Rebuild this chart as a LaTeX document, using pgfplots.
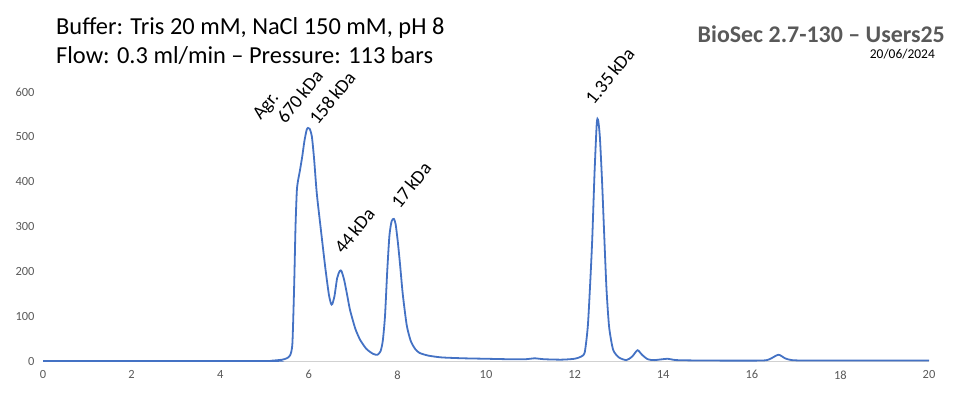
\documentclass[border=0pt]{standalone}
\usepackage{pgfplots}
\pgfplotsset{compat=1.18}
\usepackage{fontspec}
\setmainfont{Carlito}
\definecolor{curve}{HTML}{4472C4}
\definecolor{tickc}{HTML}{595959}
\begin{document}
\begin{tikzpicture}[x=1bp,y=1bp]
\path[use as bounding box] (0,0) rectangle (968,396);
\begin{axis}[at={(43bp,35bp)}, anchor=south west, scale only axis,
  width=886bp, height=269bp, xmin=0, xmax=20, ymin=0, ymax=600,
  xtick={0,2,...,20}, ytick={0,100,...,600},
  axis x line*=bottom, axis y line*=left,
  x axis line style={-, draw=black!18, line width=0.8bp},
  y axis line style={draw=none},
  major tick length=0,
  tick label style={font=\fontsize{12.5}{14}\selectfont, text=tickc},
  /pgf/number format/assume math mode=true,
  xticklabel style={yshift=-6bp}, yticklabel style={xshift=-5bp},
  clip=false]
\addplot[curve, line width=1.8bp, smooth, tension=0.4] coordinates {
(0,0) (5.0,0) (5.2,1) (5.4,3) (5.5,6) (5.58,13) (5.63,40) (5.67,170) (5.70,300)
(5.73,380) (5.76,404) (5.80,425) (5.85,455) (5.90,490) (5.95,515) (5.98,520)
(6.02,518) (6.07,500) (6.12,450) (6.18,374) (6.27,295) (6.37,210) (6.45,150)
(6.50,128) (6.53,127) (6.58,145) (6.64,185) (6.70,201) (6.74,200) (6.80,180)
(6.87,145) (6.93,114) (7.05,72) (7.16,47) (7.30,27) (7.45,16) (7.55,14)
(7.62,22) (7.67,45) (7.72,100) (7.77,200) (7.82,280) (7.87,312) (7.92,317)
(7.96,305) (8.01,265) (8.06,215) (8.12,150) (8.21,80) (8.30,45) (8.40,27)
(8.50,18) (8.70,12) (9.0,8) (9.5,6) (10.0,5) (10.5,4) (10.9,4) (11.1,6)
(11.3,4) (11.7,3) (12.0,5) (12.15,10) (12.23,20) (12.30,80) (12.36,190)
(12.40,277) (12.45,420) (12.50,530) (12.53,538) (12.57,500) (12.62,400)
(12.67,277) (12.72,160) (12.78,75) (12.87,25) (13.0,8) (13.17,2) (13.3,10)
(13.42,24) (13.52,14) (13.65,4) (13.8,2) (14.1,5) (14.3,2) (15,1) (16.2,1)
(16.4,4) (16.6,14) (16.75,6) (16.9,2) (17.2,1) (18,1) (19,1) (20,1)
};
\tikzset{pk/.style={rotate=51, anchor=base west, inner sep=0pt, xshift=4bp, yshift=-1bp, font=\fontsize{19}{22}\selectfont}}
\node[pk] at (axis cs:4.84,530) {Agr.};
\node[pk] at (axis cs:5.40,522) {670\,kDa};
\node[pk] at (axis cs:6.13,519) {158\,kDa};
\node[pk] at (axis cs:6.70,231) {44\,kDa};
\node[pk] at (axis cs:7.98,333) {17\,kDa};
\node[pk] at (axis cs:12.36,564) {1.35\,kDa};
\end{axis}
\node[anchor=base west, inner sep=0pt, font=\fontsize{24.5}{28}\selectfont] at (56,362) {Buffer: Tris 20 mM, NaCl 150 mM, pH 8};
\node[anchor=base west, inner sep=0pt, font=\fontsize{24.5}{28}\selectfont] at (56,333) {Flow: 0.3 ml/min \textendash{} Pressure: 113 bars};
\node[anchor=base east, inner sep=0pt, font=\bfseries\fontsize{24}{28}\selectfont, text=tickc] at (945,354) {BioSec 2.7-130 \textendash{} Users25};
\node[anchor=base east, inner sep=0pt, font=\fontsize{13.5}{16}\selectfont] at (935,338) {20/06/2024};
\end{tikzpicture}
\end{document}
